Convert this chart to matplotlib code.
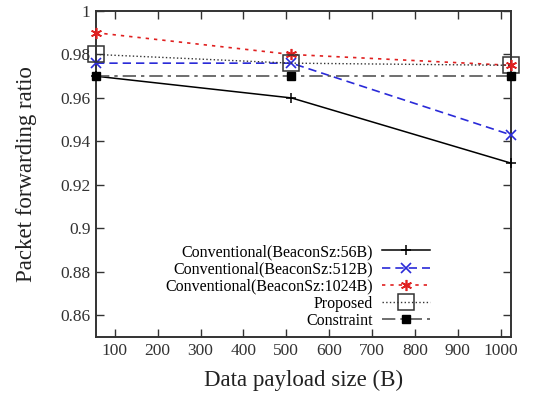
import numpy as np
import matplotlib
matplotlib.use("Agg")
import matplotlib.pyplot as plt

plt.rcParams['font.family'] = ['Liberation Serif', 'DejaVu Serif']

# data payload sizes (B)
payload = [56, 512, 1024]

conv_56 = [0.970, 0.960, 0.930]
conv_512 = [0.976, 0.976, 0.943]
conv_1024 = [0.990, 0.980, 0.975]
proposed = [0.980, 0.976, 0.975]
constraint = [0.970, 0.970, 0.970]

fig = plt.figure(figsize=(5.47, 3.94), dpi=100)
ax = fig.add_axes([96/547, 1 - 337/394, 415/547, 326/394])

ax.plot(payload, conv_56, color="black", lw=1.1, marker="+", ms=7, mew=1.1,
        label="Conventional(BeaconSz:56B)", clip_on=False, zorder=3)
ax.plot(payload, conv_512, color="#2a2ad8", lw=1.2, ls=(0, (5, 3)), marker="x", ms=7, mew=1.2,
        label="Conventional(BeaconSz:512B)", clip_on=False, zorder=3)
ax.plot(payload, conv_1024, color="#e02020", lw=1.2, ls=(0, (2, 3)), marker=(6, 2, 0), ms=8, mew=1.2,
        label="Conventional(BeaconSz:1024B)", clip_on=False, zorder=3)
ax.plot(payload, proposed, color="#333333", lw=1.0, ls=":", marker="s", ms=11, mew=1.1,
        mfc="none", mec="#333333", label="Proposed", clip_on=False, zorder=3)
ax.plot(payload, constraint, color="#555555", lw=1.2, ls=(0, (8, 3, 2, 3)), marker="s", ms=6,
        mfc="black", mec="black", label="Constraint", clip_on=False, zorder=3)

ax.set_xlim(56, 1024)
ax.set_ylim(0.85, 1.0)
ax.set_xticks(np.arange(100, 1001, 100))
ax.set_yticks([0.86, 0.88, 0.9, 0.92, 0.94, 0.96, 0.98, 1.0])
ax.set_yticklabels(["0.86", "0.88", "0.9", "0.92", "0.94", "0.96", "0.98", "1"])
ax.tick_params(direction="in", top=True, right=True, length=6, width=1, labelsize=12.5,
               colors="#333333", pad=4)
for s in ax.spines.values():
    s.set_linewidth(1.4)
    s.set_color("#333333")

ax.set_xlabel("Data payload size (B)", fontsize=16.5, color="#222222", labelpad=8)
ax.set_ylabel("Packet forwarding ratio", fontsize=16.5, color="#222222", labelpad=17)

ax.legend(loc="lower right", bbox_to_anchor=(0.825, 0.0), frameon=False, markerfirst=False,
          fontsize=11.5, handlelength=3.0, labelspacing=0.08, handletextpad=0.6, borderaxespad=0.1)

fig.savefig("out.png", dpi=100)
